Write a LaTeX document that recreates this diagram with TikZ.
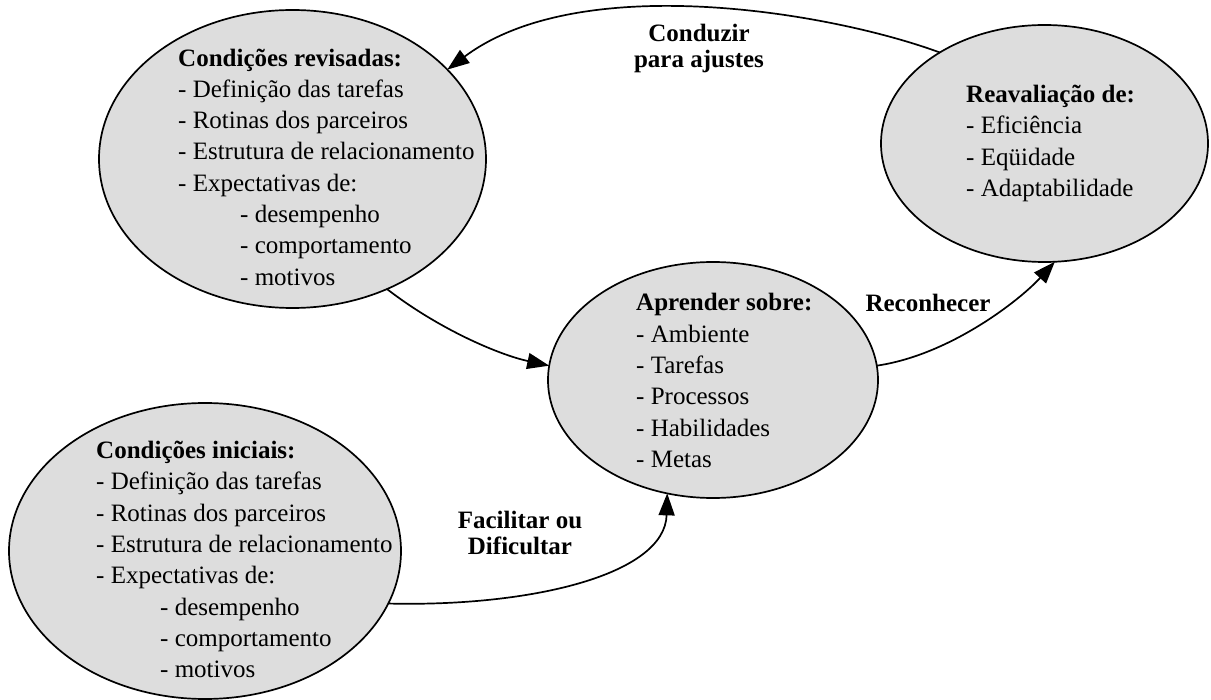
\documentclass[tikz,border=0pt]{standalone}
\usepackage{fontspec}
\setmainfont{Liberation Serif}
\usetikzlibrary{shapes.geometric,arrows.meta}
\definecolor{bubblegray}{RGB}{221,221,221}
\begin{document}
\begin{tikzpicture}[x=1pt,y=-1pt,
  bubble/.style={ellipse,draw=black,line width=1.7pt,fill=bubblegray,inner sep=0pt,outer sep=0pt},
  txt/.style={anchor=west,align=left,inner sep=0pt,font=\fontsize{25}{31.3}\selectfont},
  lbl/.style={align=center,inner sep=0pt,font=\fontsize{25}{26}\selectfont\bfseries},
  conn/.style={line width=1.7pt,-{Triangle[length=22pt,width=16pt]}}]
\useasboundingbox (0,0) rectangle (1211,700);

% ellipses
\node[bubble,minimum width=387pt,minimum height=298pt] (tl) at (292.5,159) {};
\node[bubble,minimum width=392pt,minimum height=296pt] (bot) at (205,551) {};
\node[bubble,minimum width=330pt,minimum height=236pt] (mid) at (713,380) {};
\node[bubble,minimum width=327pt,minimum height=237pt] (re) at (1044.5,143.5) {};

% texts
\node[txt] (tltxt) at (178,167) {\textbf{Condições revisadas:}\\
- Definição das tarefas\\
- Rotinas dos parceiros\\
- Estrutura de relacionamento\\
- Expectativas de:\\
\hspace*{62pt}- desempenho\\
\hspace*{62pt}- comportamento\\
\hspace*{62pt}- motivos};

\node[txt] (bottxt) at (96,559.5) {\textbf{Condições iniciais:}\\
- Definição das tarefas\\
- Rotinas dos parceiros\\
- Estrutura de relacionamento\\
- Expectativas de:\\
\hspace*{64pt}- desempenho\\
\hspace*{64pt}- comportamento\\
\hspace*{64pt}- motivos};

\node[txt] (midtxt) at (636,380.5) {\textbf{Aprender sobre:}\\
- Ambiente\\
- Tarefas\\
- Processos\\
- Habilidades\\
- Metas};

\node[txt] (retxt) at (966,143.5) {\textbf{Reavaliação de:}\\
- Eficiência\\
- Eqüidade\\
- Adaptabilidade};

% connectors
\draw[conn] (re.139.4) .. controls (830,12) and (580,-30) .. (tl.30);
\draw[conn] (tl.-54) .. controls (440,330) and (500,355) .. (mid.175.4);
\draw[conn] (mid.5.2) .. controls (950,355) and (1020,300) .. (re.-85.7);
\draw[conn] (bot.-16.5) .. controls (530,607) and (665,575) .. (mid.-112.3);

% labels
\node[lbl] (l1) at (699,48) {Conduzir\\para ajustes};
\node[lbl] (l2) at (928,303) {Reconhecer};
\node[lbl] (l3) at (520,533) {Facilitar ou\\Dificultar};
\end{tikzpicture}
\end{document}
